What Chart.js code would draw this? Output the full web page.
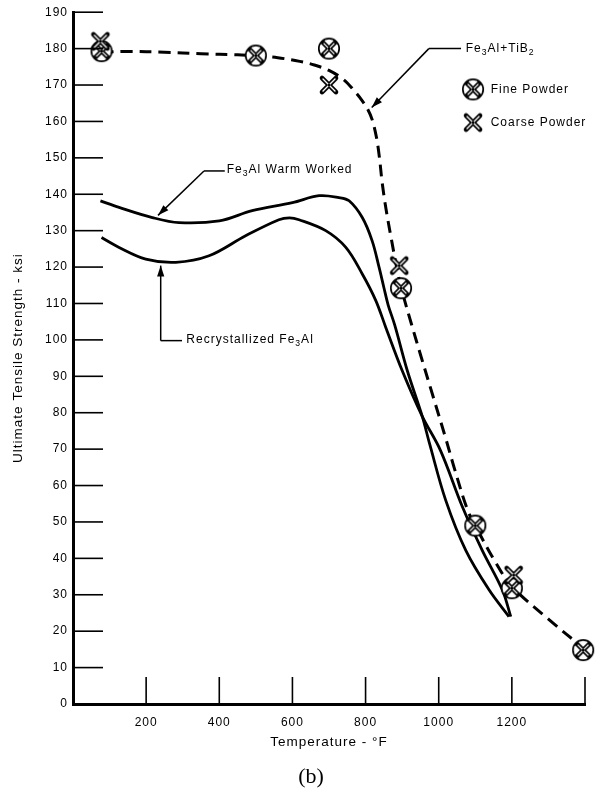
<!DOCTYPE html>
<html><head><meta charset="utf-8">
<script src="https://cdn.jsdelivr.net/npm/chart.js@4.4.0/dist/chart.umd.min.js"></script>
<style>html,body{margin:0;padding:0;background:#fff;} #wrap{position:relative;width:605px;height:797px;}</style>
</head><body><div id="wrap"><canvas id="c"></canvas></div>
<script>
// ---------- data ----------
const xTickValues = [0, 200, 400, 600, 800, 1000, 1200, 1400];
const xTickLabels = ['', '200', '400', '600', '800', '1000', '1200', ''];
const yTickValues = [0,10,20,30,40,50,60,70,80,90,100,110,120,130,140,150,160,170,180,190];
const yTickLabels = ['0','10','20','30','40','50','60','70','80','90','100','110','120','130','140','150','160','170','180','190'];

const tib2Temp     = [78, 150, 250, 350, 450, 500, 560, 620, 660, 700, 740, 770, 790, 805, 818, 830, 838, 845, 855, 869, 890, 905, 925, 950, 983, 1019, 1042, 1078, 1100, 1156, 1200, 1300, 1400];
const tib2Strength = [179, 179.2, 179, 178.6, 178.3, 178, 177.5, 176.5, 175.5, 174, 171.5, 168.3, 165.8, 163.5, 160.5, 155.5, 150, 143.5, 136.5, 128.5, 117.5, 111.5, 104.5, 96, 85, 73, 65, 53.5, 49, 38.8, 32.3, 23.3, 15];

const warmTemp     = [75, 126, 217, 290, 400, 490, 600, 673, 727, 755, 791, 818, 837, 850, 862, 880, 914, 955, 975, 1019, 1074, 1138, 1192];
const warmStrength = [138.2, 136.4, 133.6, 132.2, 132.7, 135.5, 137.7, 139.6, 139.1, 138.2, 133.6, 127.2, 119.9, 114.4, 109.5, 104, 91.6, 79, 71.5, 56, 42.2, 31.3, 24];

const recrystTemp     = [78, 126, 199, 281, 372, 472, 563, 592, 618, 691, 746, 791, 828, 855, 900, 955, 1005, 1065, 1119, 1174, 1197];
const recrystStrength = [128.1, 125.4, 122.2, 121.3, 123.1, 128.6, 133, 133.5, 133, 130, 125.4, 118.1, 110.8, 103.5, 91.6, 79, 69.6, 54.1, 42.2, 31.3, 24];

const fineTemp     = [78, 500, 700, 897, 1100, 1200, 1395];
const fineStrength = [179.3, 178.1, 180, 114.2, 49, 31.8, 14.8];

const coarseTemp     = [75, 700, 892, 1205];
const coarseStrength = [182, 170, 120.4, 35.4];

const zip = (xs, ys) => xs.map((x, i) => ({x, y: ys[i]}));

// ---------- marker images ----------
function fineMarker() {
  const c = document.createElement('canvas'); c.width = 26; c.height = 26;
  const g = c.getContext('2d');
  g.beginPath(); g.arc(13, 13, 10.2, 0, Math.PI * 2);
  g.fillStyle = '#fff'; g.fill();
  g.lineWidth = 1.7; g.strokeStyle = '#000'; g.stroke();
  const d = 6.9;
  g.beginPath(); g.moveTo(13 - d, 13 - d); g.lineTo(13 + d, 13 + d);
  g.moveTo(13 + d, 13 - d); g.lineTo(13 - d, 13 + d);
  g.lineWidth = 4.4; g.stroke();
  g.beginPath(); g.moveTo(13 - d + 1.5, 13 - d + 1.5); g.lineTo(13 + d - 1.5, 13 + d - 1.5);
  g.moveTo(13 + d - 1.5, 13 - d + 1.5); g.lineTo(13 - d + 1.5, 13 + d - 1.5);
  g.lineWidth = 1.3; g.strokeStyle = '#fff'; g.stroke();
  g.fillStyle = '#000'; g.fillRect(11.8, 11.8, 2.4, 2.4);
  return c;
}
function coarseMarker() {
  const c = document.createElement('canvas'); c.width = 24; c.height = 24;
  const g = c.getContext('2d');
  const d = 7;
  g.lineCap = 'round';
  g.beginPath(); g.moveTo(12 - d, 12 - d); g.lineTo(12 + d, 12 + d);
  g.moveTo(12 + d, 12 - d); g.lineTo(12 - d, 12 + d);
  g.lineWidth = 4.6; g.strokeStyle = '#000'; g.stroke();
  g.beginPath(); g.moveTo(12 - d + 1, 12 - d + 1); g.lineTo(12 + d - 1, 12 + d - 1);
  g.moveTo(12 + d - 1, 12 - d + 1); g.lineTo(12 - d + 1, 12 + d - 1);
  g.lineWidth = 1.4; g.strokeStyle = '#fff'; g.stroke();
  g.fillStyle = '#000'; g.fillRect(10.8, 10.8, 2.4, 2.4);
  return c;
}
const FINE = fineMarker();
const COARSE = coarseMarker();

// ---------- annotation anchors (in data units) ----------
const FONT = '"Liberation Sans", Arial, Helvetica, sans-serif';
const notes = {
  tib2:    {text: [['Fe',0],['3',1],['Al+TiB',0],['2',1]], at: [1074, 179.9], corner: [973, 180], lineEnd: [1061, 180], tip: [816.8, 163.8]},
  warm:    {text: [['Fe',0],['3',1],['Al Warm Worked',0]], at: [420.3, 146.7], corner: [358.2, 146.4], lineEnd: [415, 146.4], tip: [232.4, 134.2]},
  recryst: {text: [['Recrystallized Fe',0],['3',1],['Al',0]], at: [309.8, 100], corner: [239.8, 99.8], lineEnd: [298, 99.8], tip: [239.8, 120.4]},
};
const legendItems = [
  {img: FINE, text: 'Fine Powder', marker: [1093.8, 168.8], at: [1142, 168.8]},
  {img: COARSE, text: 'Coarse Powder', marker: [1093.8, 159.7], at: [1142, 159.7]},
];

function richText(ctx, parts, x, y, size) {
  let cx = x;
  ctx.textBaseline = 'middle'; ctx.textAlign = 'left'; ctx.fillStyle = '#000';
  for (const [t, sub] of parts) {
    ctx.font = (sub ? size * 0.72 : size) + 'px ' + FONT;
    ctx.fillText(t, cx, sub ? y + size * 0.32 : y);
    cx += ctx.measureText(t).width;
  }
}
function arrow(ctx, from, to) {
  ctx.beginPath(); ctx.moveTo(from[0], from[1]); ctx.lineTo(to[0], to[1]); ctx.stroke();
  const a = Math.atan2(to[1] - from[1], to[0] - from[0]);
  const L = 11, W = 3.6;
  ctx.beginPath();
  ctx.moveTo(to[0], to[1]);
  ctx.lineTo(to[0] - L * Math.cos(a) + W * Math.sin(a), to[1] - L * Math.sin(a) - W * Math.cos(a));
  ctx.lineTo(to[0] - L * Math.cos(a) - W * Math.sin(a), to[1] - L * Math.sin(a) + W * Math.cos(a));
  ctx.closePath(); ctx.fill();
}

const decor = {
  id: 'decor',
  beforeDraw(chart) { chart.ctx.letterSpacing = '1px'; },
  afterDraw(chart) {
    const ctx = chart.ctx, xs = chart.scales.x, ys = chart.scales.y, area = chart.chartArea;
    const P = (p) => [xs.getPixelForValue(p[0]), ys.getPixelForValue(p[1])];
    ctx.save();
    ctx.letterSpacing = '1px';
    ctx.strokeStyle = '#000'; ctx.fillStyle = '#000';
    // inner tick marks
    ctx.lineWidth = 1.6;
    yTickValues.forEach(v => {
      if (v === 0) return;
      const y = ys.getPixelForValue(v);
      ctx.beginPath(); ctx.moveTo(area.left, y); ctx.lineTo(area.left + 30, y); ctx.stroke();
    });
    xTickValues.forEach(v => {
      if (v === 0) return;
      const x = xs.getPixelForValue(v);
      ctx.beginPath(); ctx.moveTo(x, area.bottom); ctx.lineTo(x, area.bottom - 27); ctx.stroke();
    });
    // leader lines and labels
    ctx.lineWidth = 1.5;
    Object.values(notes).forEach(n => {
      const c = P(n.corner), e = P(n.lineEnd), t = P(n.tip), a = P(n.at);
      ctx.beginPath(); ctx.moveTo(c[0], c[1]); ctx.lineTo(e[0], e[1]); ctx.stroke();
      arrow(ctx, c, t);
      richText(ctx, n.text, a[0], a[1], 12);
    });
    // legend
    legendItems.forEach(it => {
      const m = P(it.marker), a = P(it.at);
      ctx.drawImage(it.img, m[0] - it.img.width / 2, m[1] - it.img.height / 2);
      richText(ctx, [[it.text, 0]], a[0], a[1], 12);
    });
    // caption
    ctx.letterSpacing = '0px';
    ctx.font = '22px "Liberation Serif", "Times New Roman", serif';
    ctx.textAlign = 'center'; ctx.textBaseline = 'middle';
    ctx.fillText('(b)', 311, 777);
    ctx.restore();
  }
};

Chart.defaults.font.family = FONT;
Chart.defaults.font.size = 12;
Chart.defaults.color = '#000';

new Chart(document.getElementById('c'), {
  type: 'scatter',
  data: {
    datasets: [
      {label: 'Coarse Powder', data: zip(coarseTemp, coarseStrength), pointStyle: COARSE, pointRadius: 9, pointHoverRadius: 9, clip: false, showLine: false},
      {label: 'Fine Powder', data: zip(fineTemp, fineStrength), pointStyle: FINE, pointRadius: 10, pointHoverRadius: 10, clip: false, showLine: false},
      {label: 'Fe3Al+TiB2', data: zip(tib2Temp, tib2Strength), showLine: true, borderColor: '#000', borderWidth: 3, borderDash: [12, 7], pointRadius: 0, tension: 0.35, fill: false},
      {label: 'Fe3Al Warm Worked', data: zip(warmTemp, warmStrength), showLine: true, borderColor: '#000', borderWidth: 2.8, pointRadius: 0, tension: 0.35, fill: false},
      {label: 'Recrystallized Fe3Al', data: zip(recrystTemp, recrystStrength), showLine: true, borderColor: '#000', borderWidth: 2.8, pointRadius: 0, tension: 0.35, fill: false},
    ]
  },
  options: {
    responsive: true, maintainAspectRatio: false, animation: false, devicePixelRatio: 1,
    layout: {padding: {left: 0, right: 20, top: 11, bottom: 0}},
    plugins: {legend: {display: false}, tooltip: {enabled: false}},
    scales: {
      x: {
        type: 'linear', min: 0, max: 1400,
        afterBuildTicks: s => { s.ticks = xTickValues.map(v => ({value: v})); },
        afterFit: s => { s.height = 93; },
        grid: {display: false, drawTicks: false},
        border: {display: true, color: '#000', width: 3},
        ticks: {autoSkip: false, maxRotation: 0, padding: 11, color: '#000', font: {size: 12},
          callback: (v, i) => xTickLabels[i]},
        title: {display: true, text: 'Temperature - °F', color: '#000', font: {size: 13.5}, padding: {top: 0, bottom: 47}}
      },
      y: {
        type: 'linear', min: 0, max: 190,
        afterBuildTicks: s => { s.ticks = yTickValues.map(v => ({value: v})); },
        afterFit: s => { s.width = 73; },
        grid: {display: false, drawTicks: false},
        border: {display: true, color: '#000', width: 3},
        ticks: {autoSkip: false, padding: 5, color: '#000', font: {size: 12},
          callback: (v, i) => yTickLabels[i]},
        title: {display: true, text: 'Ultimate Tensile Strength - ksi', color: '#000', font: {size: 13.5}, padding: {top: 10, bottom: 0}}
      }
    }
  },
  plugins: [decor]
});
</script></body></html>
